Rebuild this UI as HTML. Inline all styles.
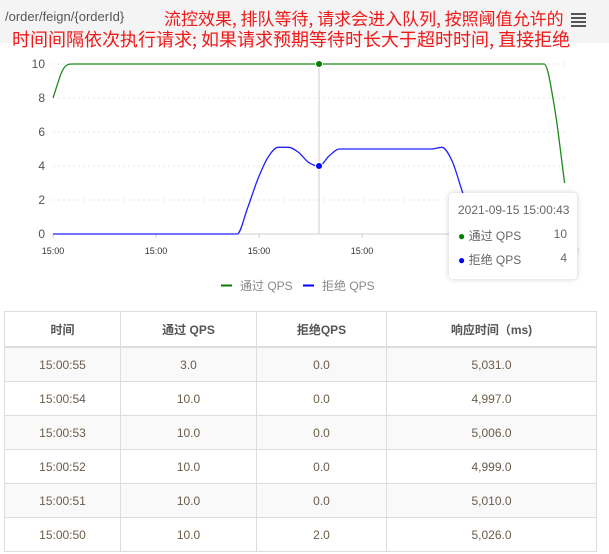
<!DOCTYPE html>
<html><head><meta charset="utf-8"><style>
body{margin:0;width:609px;height:554px;background:#fff;font-family:"Liberation Sans","Noto Sans CJK SC",sans-serif;position:relative;overflow:hidden}
#top{position:absolute;left:0;top:0;width:609px;height:43px;background:#f4f4f4}
#path{position:absolute;left:5px;top:9px;font-size:13px;color:#555}
.tl{position:absolute;font-size:18px;line-height:23px;color:#f01818;font-family:"Noto Sans CJK SC",sans-serif;white-space:nowrap}
#menu{position:absolute;left:571px;top:13px;width:15px}
#menu div{height:2px;background:#555;margin-bottom:2px}
table{position:absolute;left:4px;top:311px;border-collapse:collapse;font-size:12px;color:#6a5c4a}
td,th{border:1px solid #ddd;text-align:center;height:33px;padding:0}
th{font-weight:bold;color:#555;height:34px;border-bottom:2px solid #ddd}
tr:nth-child(even) td{background:#f9f9f9}
#tip{position:absolute;left:449px;top:193px;width:128px;height:86px;background:#fff;border-radius:4px;box-shadow:0 0 6px rgba(0,0,0,.2);font-size:12px;color:#666}
.v{position:absolute;right:10px}
</style></head><body>
<div id="top"></div>
<div id="path">/order/feign/{orderId}</div>
<div class="tl" style="left:164px;top:6px;font-size:17px">流控效果, 排队等待, 请求会进入队列, 按照阈值允许的</div>
<div class="tl" style="left:12px;top:28px">时间间隔依次执行请求; 如果请求预期等待时长大于超时时间, 直接拒绝</div>
<div id="menu"><div></div><div></div><div></div><div></div></div>
<svg id="chart" width="609" height="300" style="position:absolute;left:0;top:0"></svg>
<div id="tip">
<div style="position:absolute;left:9px;top:10px">2021-09-15 15:00:43</div>
<div style="position:absolute;left:9px;right:0;top:34px"><span style="color:green">●</span> 通过 QPS<span class="v">10</span></div>
<div style="position:absolute;left:9px;right:0;top:58px"><span style="color:#00f">●</span> 拒绝 QPS<span class="v">4</span></div>
</div>
<table>
<tr><th style="width:115px">时间</th><th style="width:135px">通过 QPS</th><th style="width:129px">拒绝QPS</th><th style="width:209px">响应时间（ms)</th></tr>
<tr><td>15:00:55</td><td>3.0</td><td>0.0</td><td>5,031.0</td></tr>
<tr><td>15:00:54</td><td>10.0</td><td>0.0</td><td>4,997.0</td></tr>
<tr><td>15:00:53</td><td>10.0</td><td>0.0</td><td>5,006.0</td></tr>
<tr><td>15:00:52</td><td>10.0</td><td>0.0</td><td>4,999.0</td></tr>
<tr><td>15:00:51</td><td>10.0</td><td>0.0</td><td>5,010.0</td></tr>
<tr><td>15:00:50</td><td>10.0</td><td>2.0</td><td>5,026.0</td></tr>
</table>
<script>
const passQps=[8,9.7,10,10,10,10,10,10,10,10,10,10,10,10,10,10,10,10,10,10,10,10,10,10,10,10,10,10,10,10,10,10,10,10,10,10,10,10,10,10,10,10,10,10,10,10,10,10,10,7.5,3];
const blockQps=[0,0,0,0,0,0,0,0,0,0,0,0,0,0,0,0,0,0,0,1.5,3.2,4.5,5.1,5.1,4.8,4.2,4.0,4.6,5.0,5,5,5,5,5,5,5,5,5,5.1,4.3,2.5,0.8,0,0,0,0,0,0,0,0,0];
const yTicks=[0,2,4,6,8,10];
const xTickLabels=['15:00','15:00','15:00','15:00','15:00','15:00'];
const hoverIndex=26;
const svg=document.getElementById('chart');const NS='http://www.w3.org/2000/svg';
const x0=53,x1=564.6,yb=234,yt=64;
const X=i=>x0+i*(x1-x0)/(passQps.length-1);
const Y=v=>yb-(v/10)*(yb-yt);
function mk(t,a){const e=document.createElementNS(NS,t);for(const k in a)e.setAttribute(k,a[k]);svg.appendChild(e);return e;}
yTicks.forEach(v=>{
 const l=mk('line',{x1:x0,x2:568,y1:Y(v),y2:Y(v),stroke:v?'#e6e6e6':'#ccc','stroke-dasharray':v?'2,3':''});
 
 
 const t=mk('text',{x:45,y:Y(v)+4,'text-anchor':'end','font-size':12,fill:'#555'});t.textContent=v;
 
 
});
xTickLabels.forEach((s,i)=>{
 const x=x0+i*103;
 mk('line',{x1:x,x2:x,y1:yb,y2:yb+4,stroke:'#ccc'});
 const t=mk('text',{x:x,y:254,'text-anchor':'middle','font-size':9,fill:i>=4?'#ddd':'#333'});t.textContent=s;
 
 
});
mk('line',{x1:X(hoverIndex),x2:X(hoverIndex),y1:yt,y2:yb,stroke:'#ccc'});
function smooth(arr){
 const n=arr.length,h=X(1)-X(0),m=[];
 const d=[];for(let i=0;i<n-1;i++)d.push(arr[i+1]-arr[i]);
 for(let i=0;i<n;i++){
  if(i===0)m.push(d[0]);else if(i===n-1)m.push(d[n-2]);
  else m.push(d[i-1]*d[i]<=0?0:(d[i-1]+d[i])/2);
 }
 let p='M'+X(0)+','+Y(arr[0]);
 for(let i=0;i<n-1;i++){
  p+=` C${X(i)+h/3},${Y(arr[i]+m[i]/3)} ${X(i+1)-h/3},${Y(arr[i+1]-m[i+1]/3)} ${X(i+1)},${Y(arr[i+1])}`;
 }
 return p;
}
const lp=mk('path',{d:smooth(passQps),fill:'none',stroke:'#1a8a1a','stroke-width':1.3});


const lb=mk('path',{d:smooth(blockQps),fill:'none',stroke:'#2020ff','stroke-width':1.3});


const d1=mk('circle',{cx:X(hoverIndex),cy:Y(passQps[hoverIndex]),r:3.5,fill:'green',stroke:'#fff'});


const d2=mk('circle',{cx:X(hoverIndex),cy:Y(blockQps[hoverIndex]),r:3.5,fill:'#00f',stroke:'#fff'});


[['通过 QPS','green',221],['拒绝 QPS','#00f',303]].forEach(([s,c,x])=>{
 const g=document.createElementNS(NS,'g');svg.appendChild(g);
 
 
 const r=document.createElementNS(NS,'rect');r.setAttribute('x',x);r.setAttribute('y',284.5);r.setAttribute('width',11);r.setAttribute('height',2);r.setAttribute('fill',c);g.appendChild(r);
 const t=document.createElementNS(NS,'text');t.setAttribute('x',x+19);t.setAttribute('y',290);t.setAttribute('font-size',12);t.setAttribute('fill','#888');t.textContent=s;g.appendChild(t);
});
</script>
</body></html>
